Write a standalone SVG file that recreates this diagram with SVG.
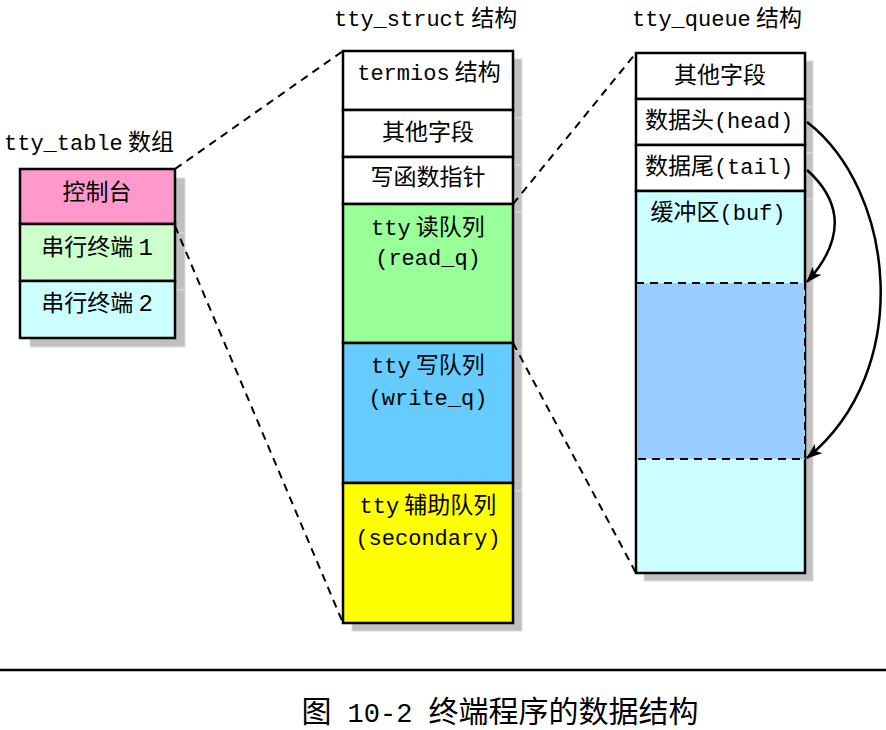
<svg xmlns="http://www.w3.org/2000/svg" width="886" height="730" viewBox="0 0 886 730">
<style>
.t{font-family:"Liberation Mono","Noto Sans CJK SC",monospace;font-size:22px;fill:#000}
.c{font-family:"Noto Sans CJK SC",sans-serif;font-size:23px}
.m{text-anchor:middle}
.cell{stroke:#000;stroke-width:2.5}
.sh{fill:#c0c0c0;stroke:#dcdcdc;stroke-width:1}
.dash{fill:none;stroke:#000;stroke-width:2;stroke-dasharray:8 6}
.arr{fill:none;stroke:#000;stroke-width:2.5;marker-end:url(#ah)}
.cap{font-family:"Noto Sans CJK SC",sans-serif;font-size:30px;text-anchor:middle}
.capl{font-family:"Liberation Mono",monospace;font-size:27px}
</style>
<defs>
<marker id="ah" markerUnits="userSpaceOnUse" markerWidth="16" markerHeight="12" refX="15" refY="6" orient="auto">
<path d="M0,0 L16,6 L0,12 L4,6 z" fill="#000"/>
</marker>
</defs>
<rect width="886" height="730" fill="#fff"/>

<g id="tty_table">
<rect class="sh" x="30" y="178" width="155" height="55"/>
<rect class="sh" x="30" y="233" width="155" height="57"/>
<rect class="sh" x="30" y="290" width="155" height="57"/>
<rect class="cell" x="20" y="169" width="155" height="55" fill="#ff99cc"/>
<rect class="cell" x="20" y="224" width="155" height="57" fill="#ccffcc"/>
<rect class="cell" x="20" y="281" width="155" height="57" fill="#ccffff"/>
<text class="t" x="4" y="150">tty_table<tspan class="c"> 数组</tspan></text>
<text class="t c m" x="97" y="200">控制台</text>
<text class="t m" x="97" y="255"><tspan class="c">串行终端 </tspan><tspan font-size="24">1</tspan></text>
<text class="t m" x="97" y="311"><tspan class="c">串行终端 </tspan><tspan font-size="24">2</tspan></text>
</g>

<g id="tty_struct">
<rect class="sh" x="352" y="59" width="170" height="59"/>
<rect class="sh" x="352" y="118" width="170" height="47"/>
<rect class="sh" x="352" y="165" width="170" height="47"/>
<rect class="sh" x="352" y="212" width="170" height="139"/>
<rect class="sh" x="352" y="351" width="170" height="140"/>
<rect class="sh" x="352" y="491" width="170" height="140"/>
<rect class="cell" x="343" y="51" width="170" height="59" fill="#fff"/>
<rect class="cell" x="343" y="110" width="170" height="47" fill="#fff"/>
<rect class="cell" x="343" y="157" width="170" height="47" fill="#fff"/>
<rect class="cell" x="343" y="204" width="170" height="139" fill="#99ff99"/>
<rect class="cell" x="343" y="343" width="170" height="140" fill="#66ccff"/>
<rect class="cell" x="343" y="483" width="170" height="140" fill="#ffff00"/>
<text class="t" x="334" y="26">tty_struct<tspan class="c"> 结构</tspan></text>
<text class="t m" x="429" y="80">termios<tspan class="c"> 结构</tspan></text>
<text class="t c m" x="428" y="140">其他字段</text>
<text class="t c m" x="428" y="185">写函数指针</text>
<text class="t m" x="428" y="235">tty<tspan class="c"> 读队列</tspan></text>
<text class="t m" x="428" y="265">(read_q)</text>
<text class="t m" x="428" y="373">tty<tspan class="c"> 写队列</tspan></text>
<text class="t m" x="428" y="405">(write_q)</text>
<text class="t m" x="428" y="513">tty<tspan class="c"> 辅助队列</tspan></text>
<text class="t m" x="428" y="545">(secondary)</text>
</g>

<g id="tty_queue">
<rect class="sh" x="644" y="61" width="169" height="46"/>
<rect class="sh" x="644" y="107" width="169" height="46"/>
<rect class="sh" x="644" y="153" width="169" height="46"/>
<rect class="sh" x="644" y="199" width="169" height="382"/>
<rect class="cell" x="636" y="53" width="169" height="46" fill="#fff"/>
<rect class="cell" x="636" y="99" width="169" height="46" fill="#fff"/>
<rect class="cell" x="636" y="145" width="169" height="46" fill="#fff"/>
<rect class="cell" x="636" y="191" width="169" height="382" fill="#ccffff"/>
<rect x="637.5" y="283" width="167.5" height="176" fill="#99ccff"/>
<path d="M636,283 H805 V459 H636" class="dash" stroke-width="2.5"/>
<text class="t" x="632" y="26">tty_queue<tspan class="c"> 结构</tspan></text>
<text class="t c m" x="720" y="83">其他字段</text>
<text class="t m" x="719" y="128"><tspan class="c">数据头</tspan>(head)</text>
<text class="t m" x="719" y="174"><tspan class="c">数据尾</tspan>(tail)</text>
<text class="t m" x="718" y="220"><tspan class="c">缓冲区</tspan>(buf)</text>
</g>

<g id="connectors">
<line class="dash" x1="175" y1="169" x2="343" y2="51"/>
<line class="dash" x1="175" y1="226" x2="343" y2="623"/>
<line class="dash" x1="513" y1="204" x2="636" y2="53"/>
<line class="dash" x1="513" y1="343" x2="636" y2="573"/>
<path class="arr" d="M807,122 C895,190 915,370 807,458"/>
<path class="arr" d="M807,170 C835,195 852,232 807,282"/>
</g>

<g id="caption">
<line x1="0" y1="670" x2="886" y2="670" stroke="#000" stroke-width="2.5"/>
<text class="cap" x="500" y="722">图<tspan class="capl"> 10-2 </tspan>终端程序的数据结构</text>
</g>
</svg>
